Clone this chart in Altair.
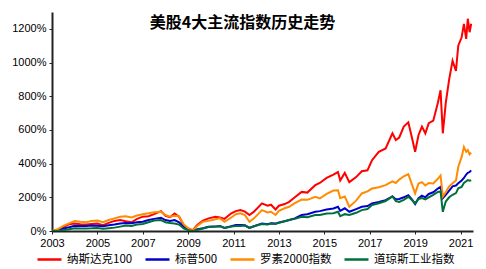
import altair as alt
import pandas as pd

years = [2003.0, 2003.25, 2003.5, 2003.75, 2004.0, 2004.25, 2004.5, 2004.75,
         2005.0, 2005.25, 2005.5, 2005.75, 2006.0, 2006.25, 2006.5, 2006.75,
         2007.0, 2007.25, 2007.5, 2007.8, 2008.0, 2008.2, 2008.4, 2008.6,
         2008.8, 2009.0, 2009.2, 2009.4, 2009.65, 2009.9, 2010.2, 2010.4,
         2010.6, 2010.9, 2011.1, 2011.3, 2011.5, 2011.7, 2011.9, 2012.25,
         2012.5, 2012.65, 2012.85, 2013.0, 2013.25, 2013.45, 2013.7, 2014.0,
         2014.25, 2014.6, 2014.8, 2015.1, 2015.4, 2015.6, 2015.7, 2015.9,
         2016.1, 2016.4, 2016.65, 2016.9, 2017.1, 2017.4, 2017.7, 2018.0,
         2018.15, 2018.3, 2018.5, 2018.7, 2018.85, 2019.0, 2019.15, 2019.3,
         2019.45, 2019.6, 2019.8, 2020.0, 2020.12, 2020.22, 2020.35, 2020.5,
         2020.65, 2020.8, 2020.9, 2021.05, 2021.15, 2021.25, 2021.32, 2021.4,
         2021.47]

nasdaq100 = [0, 8, 25, 40, 45, 40, 38, 42,
             45, 35, 48, 60, 65, 58, 52, 72,
             85, 88, 100, 118, 90, 82, 104, 85,
             35, 15, 5, 35, 62, 75, 85, 80,
             72, 105, 118, 124, 115, 95, 115, 164,
             150, 156, 128, 150, 160, 173, 200, 232,
             228, 272, 285, 315, 335, 350, 300, 345,
             290, 320, 355, 360, 420, 470, 490, 580,
             540, 555, 620, 645, 560, 470, 570, 620,
             580, 640, 655, 760, 835, 580, 760, 900,
             1010, 950, 1100, 1150, 1230, 1140, 1260, 1180,
             1230]

sp500 = [0, 2, 15, 22, 31, 30, 30, 32,
         31, 28, 34, 39, 45, 48, 46, 52,
         55, 65, 72, 79, 65, 60, 65, 52,
         25, 8, 0, 10, 16, 25, 26, 30,
         18, 28, 35, 36, 34, 18, 28, 45,
         40, 46, 44, 50, 58, 65, 75, 95,
         100, 114, 118, 128, 134, 144, 120, 135,
         114, 130, 144, 148, 164, 172, 183, 205,
         188, 190, 200, 213, 190, 160, 195, 210,
         200, 220, 230, 252, 262, 195, 215, 240,
         265, 270, 283, 300, 315, 335, 345, 350,
         360]

russell2000 = [0, 10, 30, 45, 59, 55, 52, 60,
               62, 52, 65, 75, 85, 88, 80, 92,
               99, 105, 112, 114, 95, 85, 90, 88,
               40, 15, 3, 30, 55, 60, 70, 75,
               55, 80, 100, 105, 95, 55, 75, 124,
               110, 114, 95, 120, 135, 144, 165, 187,
               185, 203, 193, 220, 240, 242, 195, 205,
               144, 180, 223, 235, 252, 260, 272, 295,
               285, 305, 325, 337, 280, 223, 282, 290,
               270, 285, 282, 310, 330, 205, 230, 265,
               283, 300, 380, 440, 498, 470, 480, 455,
               465]

dow = [0, 0, 5, 10, 16, 15, 15, 16,
       18, 14, 17, 20, 26, 32, 30, 38,
       42, 52, 62, 65, 52, 48, 45, 38,
       15, 5, 0, 6, 15, 24, 26, 28,
       18, 26, 30, 30, 32, 18, 28, 41,
       38, 44, 42, 48, 58, 65, 72, 85,
       82, 95, 95, 104, 106, 114, 88, 100,
       95, 108, 124, 130, 154, 165, 178, 205,
       178, 173, 185, 203, 185, 164, 190, 195,
       188, 200, 215, 232, 235, 114, 175, 200,
       215, 225, 254, 262, 285, 295, 302, 298,
       301]

names = ["纳斯达克100", "标普500", "罗素2000指数", "道琼斯工业指数"]
colors = ["#ff0000", "#0000cc", "#ff8c00", "#00703a"]
series = [nasdaq100, sp500, russell2000, dow]
draw_order = [2, 0, 1, 3]

rows = []
for i, (name, vals) in enumerate(zip(names, series)):
    for y, v in zip(years, vals):
        rows.append({"year": y, "value": v / 100.0, "index": name, "order": draw_order[i]})
df = pd.DataFrame(rows)

x_ticks = [2003, 2005, 2007, 2009, 2011, 2013, 2015, 2017, 2019, 2021]
y_ticks = [0, 2, 4, 6, 8, 10, 12]

chart = alt.Chart(df).mark_line(strokeWidth=2, clip=True).encode(
    x=alt.X("year:Q", scale=alt.Scale(domain=[2003, 2021.55], nice=False, zero=False),
            axis=alt.Axis(values=x_ticks, format="d", title=None, grid=False,
                          labelFont="Liberation Sans", labelFontSize=11, labelColor="#000",
                          domainColor="#222", domainWidth=2, tickColor="#222",
                          tickSize=3, labelPadding=3, labelFlush=False)),
    y=alt.Y("value:Q", scale=alt.Scale(domain=[0, 13], nice=False),
            axis=alt.Axis(values=y_ticks, format=".0%", title=None, grid=False,
                          labelFont="Liberation Sans", labelFontSize=11, labelColor="#000",
                          domainColor="#222", domainWidth=2, tickColor="#222",
                          tickSize=3, labelPadding=3)),
    color=alt.Color("index:N", scale=alt.Scale(domain=names, range=colors),
                    legend=alt.Legend(title=None, orient="none", direction="horizontal",
                                      legendX=-16, legendY=234, symbolType="stroke",
                                      symbolSize=576, symbolStrokeWidth=2.5,
                                      labelFont="Noto Sans CJK SC", labelFontSize=11.5,
                                      labelColor="#000", columnPadding=7, labelOffset=4)),
    order=alt.Order("order:Q"),
    detail="index:N",
).properties(
    width=421, height=219,
    title=alt.TitleParams("美股4大主流指数历史走势", font="Noto Sans CJK SC", fontSize=16,
                          fontWeight="bold", color="#000", offset=-19, dx=-20),
    autosize=alt.AutoSizeParams(type="none"),
    padding={"left": 44, "top": 4, "right": 5, "bottom": 38},
).configure_view(stroke=None)

chart.save("out.html", embed_options={"renderer": "svg", "actions": False})
